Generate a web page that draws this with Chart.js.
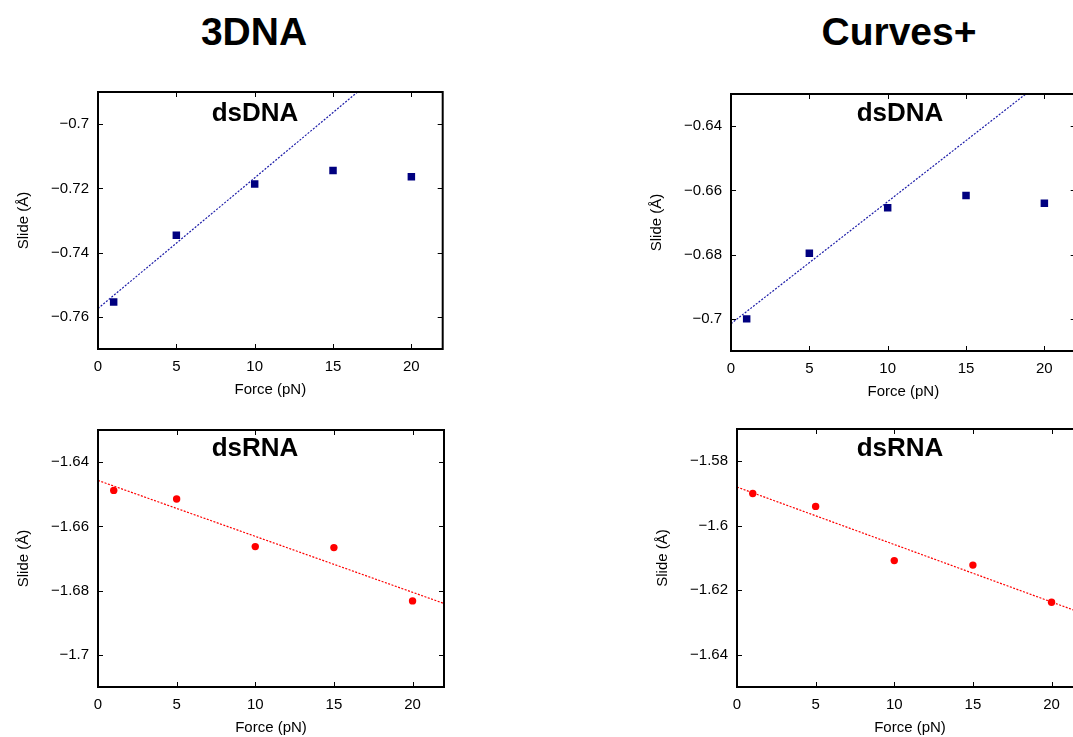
<!DOCTYPE html>
<html lang="en">
<head>
<meta charset="UTF-8">
<title>Slide vs force</title>
<script src="https://cdn.jsdelivr.net/npm/chart.js"></script>
<style>
  html, body { margin: 0; padding: 0; background: #fff; }
  .page { position: relative; width: 1073px; height: 737px; overflow: hidden; }
  .page canvas { position: absolute; }
  .head { position: absolute; top: 10px; line-height: 39px; font: bold 39px "Liberation Sans", Arial, sans-serif; color: #000; transform: translateX(-50%); white-space: nowrap; }
</style>
</head>
<body>
<div class="page">
  <div class="head" style="left:254px">3DNA</div>
  <div class="head" style="left:899px">Curves+</div>
  <canvas id="dna3dna"></canvas>
  <canvas id="dnaCurves"></canvas>
  <canvas id="rna3dna"></canvas>
  <canvas id="rnaCurves"></canvas>
</div>

<script>
// force values (pN) and axis ticks
const forces = [1, 5, 10, 15, 20];
const fitForces = [0, 22];
const xTicks = [0, 5, 10, 15, 20];

// dsDNA, 3DNA
const slideDna3dna = [-0.7554, -0.7346, -0.7186, -0.7144, -0.7164];
const fitDna3dna = [-0.7574, -0.6679];
const rangeDna3dna = [-0.77, -0.69];
const yTicksDna3dna = [-0.76, -0.74, -0.72, -0.7];

// dsDNA, Curves+
const slideDnaCurves = [-0.7000, -0.6796, -0.6654, -0.6616, -0.6640];
const fitDnaCurves = [-0.7015, -0.6179];
const rangeDnaCurves = [-0.71, -0.63];
const yTicksDnaCurves = [-0.7, -0.68, -0.66, -0.64];

// dsRNA, 3DNA
const slideRna3dna = [-1.6488, -1.6515, -1.6663, -1.6666, -1.6832];
const fitRna3dna = [-1.6457, -1.6840];
const rangeRna3dna = [-1.71, -1.63];
const yTicksRna3dna = [-1.7, -1.68, -1.66, -1.64];

// dsRNA, Curves+
const slideRnaCurves = [-1.5900, -1.5940, -1.6108, -1.6122, -1.6237];
const fitRnaCurves = [-1.5880, -1.6272];
const rangeRnaCurves = [-1.65, -1.57];
const yTicksRnaCurves = [-1.64, -1.62, -1.6, -1.58];

const font = { family: '"Liberation Sans", Arial, sans-serif', size: 15 };

// gnuplot style box with inward ticks on all sides, plus the panel label
const framePlugin = {
  id: 'frame',
  afterDatasetsDraw(chart, args, opts) {
    const { ctx, chartArea: a, scales } = chart;
    ctx.save();
    ctx.strokeStyle = '#000';
    ctx.lineWidth = 1;
    ctx.beginPath();
    scales.x.ticks.forEach(t => {
      const px = Math.round(scales.x.getPixelForValue(t.value)) + 0.5;
      ctx.moveTo(px, a.bottom); ctx.lineTo(px, a.bottom - 5);
      ctx.moveTo(px, a.top); ctx.lineTo(px, a.top + 5);
    });
    scales.y.ticks.forEach(t => {
      const py = Math.round(scales.y.getPixelForValue(t.value)) + 0.5;
      ctx.moveTo(a.left, py); ctx.lineTo(a.left + 5, py);
      ctx.moveTo(a.right, py); ctx.lineTo(a.right - 5, py);
    });
    ctx.stroke();
    ctx.lineWidth = 2;
    ctx.strokeRect(a.left, a.top, a.right - a.left, a.bottom - a.top);
    ctx.fillStyle = '#000';
    ctx.font = 'bold 26px "Liberation Sans", Arial, sans-serif';
    ctx.textAlign = 'center';
    ctx.textBaseline = 'middle';
    ctx.fillText(opts.text, opts.x, opts.y);
    ctx.restore();
  }
};

function panel(id, box, label, labelAt, slide, fit, range, yTicks, pointColor, lineColor, shape) {
  // padTop must exceed the half label height + tick padding chart.js reserves
  const padTop = 20, padRight = 4, yW = 97, xH = 52;
  const cv = document.getElementById(id);
  const left = box.l - yW, top = box.t - padTop;
  cv.width = yW + (box.r - box.l) + padRight;
  cv.height = padTop + (box.b - box.t) + xH;
  cv.style.left = left + 'px';
  cv.style.top = top + 'px';

  new Chart(cv, {
    type: 'scatter',
    data: {
      datasets: [{
        data: fitForces.map((x, i) => ({ x: x, y: fit[i] })),
        showLine: true,
        borderColor: lineColor,
        borderWidth: 1.2,
        borderDash: [2, 1.5],
        pointRadius: 0
      }, {
        data: forces.map((x, i) => ({ x: x, y: slide[i] })),
        pointStyle: shape,
        pointRadius: shape === 'rect' ? 5.3 : 3.7,
        backgroundColor: pointColor,
        borderWidth: 0
      }]
    },
    options: {
      responsive: false,
      animation: false,
      layout: { padding: { top: padTop, right: padRight, left: 0, bottom: 0 } },
      plugins: {
        legend: { display: false },
        tooltip: { enabled: false },
        frame: { text: label, x: labelAt.x - left, y: labelAt.y - top }
      },
      scales: {
        x: {
          type: 'linear',
          min: 0,
          max: 22,
          afterFit: s => { s.height = xH; },
          afterBuildTicks: s => { s.ticks = xTicks.map(v => ({ value: v })); },
          grid: { display: false, drawTicks: false },
          border: { display: false },
          ticks: { padding: 9, font: font, color: '#000' },
          title: { display: true, text: 'Force (pN)', font: font, color: '#000', padding: { top: 0, bottom: 2 } }
        },
        y: {
          type: 'linear',
          min: range[0],
          max: range[1],
          afterFit: s => { s.width = yW; },
          afterBuildTicks: s => { s.ticks = yTicks.map(v => ({ value: v })); },
          grid: { display: false, drawTicks: false },
          border: { display: false },
          ticks: { padding: 9, font: font, color: '#000', callback: v => String(v).replace('-', '\u2212') },
          title: { display: true, text: 'Slide (Å)', font: font, color: '#000', padding: { top: 14, bottom: 0 } }
        }
      }
    },
    plugins: [framePlugin]
  });
}

const navy = '#000080', blueLine = '#1c1ca8', red = '#ff0000';

panel('dna3dna',   { l: 98,  r: 444,  t: 92,  b: 349 }, 'dsDNA', { x: 255, y: 114 },
      slideDna3dna, fitDna3dna, rangeDna3dna, yTicksDna3dna, navy, blueLine, 'rect');
panel('dnaCurves', { l: 731, r: 1077, t: 94,  b: 351 }, 'dsDNA', { x: 900, y: 114 },
      slideDnaCurves, fitDnaCurves, rangeDnaCurves, yTicksDnaCurves, navy, blueLine, 'rect');
panel('rna3dna',   { l: 98,  r: 444,  t: 430, b: 687 }, 'dsRNA', { x: 255, y: 449 },
      slideRna3dna, fitRna3dna, rangeRna3dna, yTicksRna3dna, red, red, 'circle');
panel('rnaCurves', { l: 737, r: 1083, t: 429, b: 687 }, 'dsRNA', { x: 900, y: 449 },
      slideRnaCurves, fitRnaCurves, rangeRnaCurves, yTicksRnaCurves, red, red, 'circle');
</script>
</body>
</html>
